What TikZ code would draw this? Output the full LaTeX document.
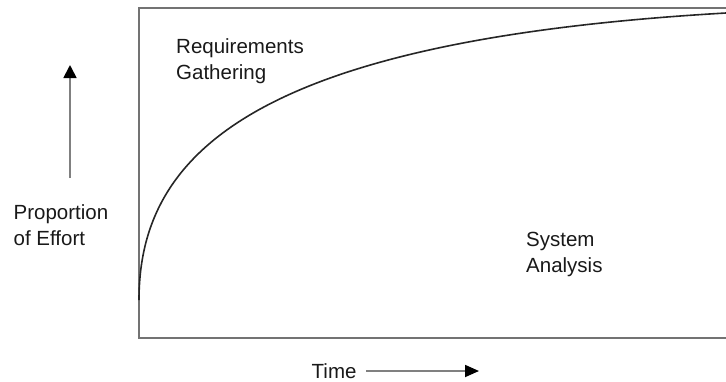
\documentclass[tikz,border=0pt]{standalone}
\usepackage{fontspec}
\setmainfont{Liberation Sans}
\usetikzlibrary{arrows.meta}
\begin{document}
\begin{tikzpicture}[x=1pt,y=-1pt,
  frame/.style={draw=black!55, line width=2pt},
  curve/.style={draw=black!85, line width=1.6pt},
  label/.style={inner sep=0pt, anchor=north west, align=left, text=black!90,
    font=\fontsize{20.5}{26}\selectfont},
  axisarrow/.style={draw=black!50, line width=1.8pt,
    -{Triangle[length=13pt,width=13pt,color=black]}}]
\useasboundingbox (0,0) rectangle (726,381);

% chart frame (open on the right)
\coordinate (tl) at (139,8);
\coordinate (bl) at (139,338);
\coordinate (tr) at (726,8);
\coordinate (br) at (726,338);
\draw[frame] (tr) -- (tl) -- (bl) -- (br);

% boundary between the two activities
\coordinate (cstart) at (139,300);
\coordinate (cend) at (726,13);
\draw[curve] (cstart) .. controls (139,150) and (260,40) .. (cend);

% region labels
\node[label] (req) at (176,38) {Requirements\\Gathering};
\node[label] (sys) at (526,231.5) {System\\Analysis};

% axis labels
\node[label] (effort) at (13.5,204.5) {Proportion\\of Effort};
\node[label] (time) at (311.5,363.5) {Time};

% axis arrows
\coordinate (ybot) at (70,178);
\coordinate (ytop) at (70,65);
\draw[axisarrow] (ybot) -- (ytop);
\coordinate (xtail) at (366,371);
\coordinate (xtip) at (479,371);
\draw[axisarrow, -{Triangle[length=14pt,width=12pt,color=black]}]
  (xtail) -- (xtip);
\end{tikzpicture}
\end{document}
